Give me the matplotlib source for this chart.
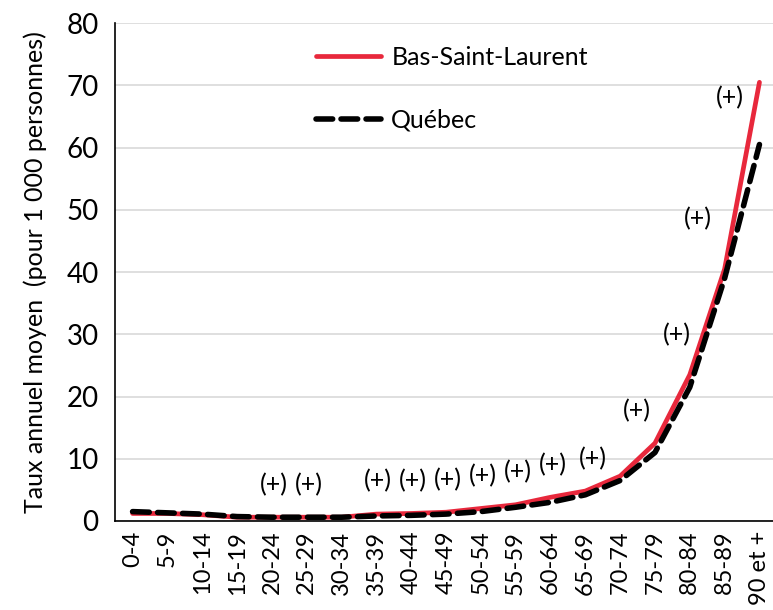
import matplotlib.pyplot as plt
import numpy as np

plt.rcParams['font.family'] = ['Lato', 'DejaVu Sans']

groupes = ['0-4', '5-9', '10-14', '15-19', '20-24', '25-29', '30-34', '35-39',
           '40-44', '45-49', '50-54', '55-59', '60-64', '65-69', '70-74',
           '75-79', '80-84', '85-89', '90 et +']
bas_saint_laurent = [1.2, 1.2, 1.0, 0.6, 0.6, 0.6, 0.6, 1.1, 1.2, 1.4, 2.0, 2.6,
                     3.8, 4.8, 7.2, 12.5, 23.5, 40.5, 70.5]
quebec = [1.5, 1.3, 1.1, 0.7, 0.6, 0.6, 0.6, 0.8, 0.9, 1.1, 1.5, 2.2,
          3.0, 4.2, 6.5, 11.0, 21.5, 39.0, 60.5]
# groupes d'age avec difference significative (+)
significatif = ['20-24', '25-29', '35-39', '40-44', '45-49', '50-54', '55-59',
                '60-64', '65-69', '75-79', '80-84', '85-89', '90 et +']

rouge = '#E8283C'
x = np.arange(len(groupes))

fig = plt.figure(figsize=(7.73, 6.10), dpi=100)
ax = fig.add_axes([0.149, 0.146, 0.856, 0.816])

ax.plot(x, bas_saint_laurent, color=rouge, lw=3.4, label='Bas-Saint-Laurent',
        solid_capstyle='round', zorder=3)
ax.plot(x, quebec, color='black', lw=4.0, ls=(0, (3.0, 1.5)), label='Québec',
        dash_capstyle='round', zorder=4)

# decalage des etiquettes (+) en pixels
decal = {'65-69': (8, 32), '75-79': (-18, 33), '80-84': (-13, 40),
         '85-89': (-27, 50), '90 et +': (-30, -15)}
for g in significatif:
    i = groupes.index(g)
    dx, dy = decal.get(g, (2, 33))
    ax.annotate('(+)', (i, bas_saint_laurent[i]), xytext=(dx, dy),
                textcoords='offset pixels', ha='center', va='center', fontsize=18)

ax.set_xlim(-0.5, len(groupes) - 0.5)
ax.set_ylim(0, 80)
ax.set_yticks(range(0, 81, 10))
ax.set_xticks(x)
ax.set_xticklabels(groupes, rotation=90, fontsize=17)
ax.tick_params(axis='y', labelsize=20, direction='in', length=0, pad=12)
ax.tick_params(axis='x', length=0, pad=7)
ax.grid(axis='y', color='#D9D9D9', lw=1.2)
ax.set_axisbelow(True)
for s in ['top', 'right']:
    ax.spines[s].set_visible(False)
ax.spines['left'].set_linewidth(1.2)
ax.spines['bottom'].set_linewidth(1.2)

ax.set_ylabel('Taux annuel moyen  (pour 1 000 personnes)', fontsize=18, labelpad=14)

ax.legend(loc='upper left', bbox_to_anchor=(0.27, 1.0), frameon=False, fontsize=18,
          handlelength=2.6, labelspacing=1.6, handletextpad=0.4)

fig.savefig('out.png', dpi=100)
